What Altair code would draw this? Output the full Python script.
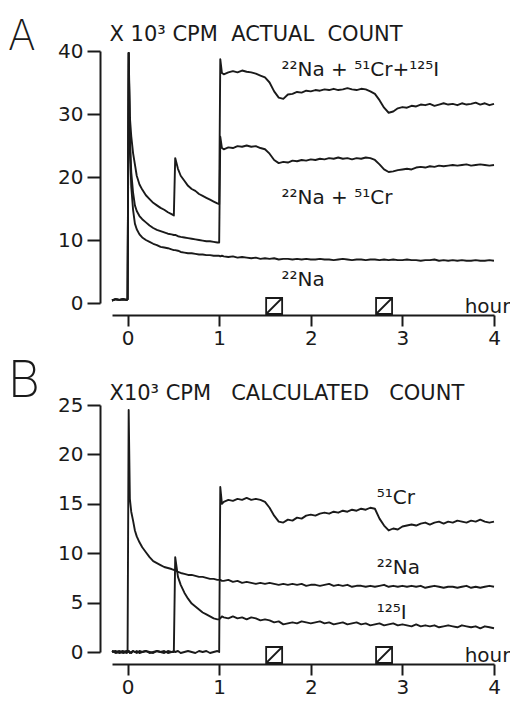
import altair as alt
import pandas as pd

# ---------------- data ----------------
hours = [-0.17, -0.13, -0.09, -0.05, -0.01,
         0.0, 0.012, 0.025,
         0.04, 0.06, 0.08, 0.10, 0.13, 0.16, 0.20, 0.24, 0.28, 0.32, 0.36, 0.40, 0.44, 0.48,
         0.505, 0.52,
         0.55, 0.58, 0.62, 0.66, 0.70, 0.74, 0.78, 0.82, 0.86, 0.90, 0.94, 0.98,
         1.0, 1.012, 1.03,
         1.05, 1.10, 1.15, 1.20, 1.25, 1.30, 1.35, 1.40, 1.45, 1.50,
         1.55, 1.60, 1.65, 1.70, 1.75, 1.80, 1.85, 1.90, 1.95, 2.00,
         2.05, 2.10, 2.15, 2.20, 2.25, 2.30, 2.35, 2.40, 2.45, 2.50,
         2.55, 2.60, 2.65, 2.70, 2.75, 2.80, 2.85, 2.90, 2.95, 3.00,
         3.05, 3.10, 3.15, 3.20, 3.25, 3.30, 3.35, 3.40, 3.45, 3.50,
         3.55, 3.60, 3.65, 3.70, 3.75, 3.80, 3.85, 3.90, 3.95, 4.00]

# Panel A: actual count (x 10^3 cpm)
a_na = [0.4, 0.6, 0.5, 0.6, 0.5,
        0.6, 39.7, 25.0,
        18.5, 14.8, 12.6, 11.7, 10.9, 10.4, 10.0, 9.7, 9.4, 9.2, 8.9, 8.8, 8.7, 8.5,
        8.4, 8.4,
        8.3, 8.1, 8.0, 7.9, 7.9, 7.8, 7.7, 7.7, 7.6, 7.6, 7.5, 7.5,
        7.5, 7.4, 7.5,
        7.4, 7.3, 7.4, 7.2, 7.3, 7.2, 7.1, 7.2, 7.0, 7.1,
        7.0, 7.1, 6.9, 7.0, 7.0, 6.9, 7.0, 6.9, 7.0, 6.9,
        6.9, 7.0, 6.9, 6.9, 6.8, 6.9, 7.0, 6.9, 6.8, 6.9,
        6.9, 6.8, 6.9, 6.9, 6.8, 6.9, 6.8, 6.9, 6.8, 6.8,
        6.9, 6.8, 6.8, 6.7, 6.8, 6.8, 6.9, 6.7, 6.8, 6.7,
        6.8, 6.7, 6.8, 6.7, 6.7, 6.8, 6.7, 6.7, 6.8, 6.7]

a_na_cr = [0.4, 0.6, 0.5, 0.6, 0.5,
           0.6, 39.7, 26.5,
           20.8, 17.5, 15.5, 14.6, 13.8, 13.3, 12.8, 12.3, 11.9, 11.6, 11.4, 11.2, 11.0, 10.9,
           10.8, 10.8,
           10.6, 10.5, 10.4, 10.3, 10.2, 10.1, 10.0, 9.9, 9.8, 9.8, 9.7, 9.6,
           9.6, 26.4, 24.6,
           24.4, 24.7, 24.6, 24.9, 24.8, 25.0, 24.8, 24.9, 24.6, 24.4,
           23.7, 22.7, 22.2, 22.4, 22.3, 22.6, 22.5, 22.7, 22.6, 22.8,
           22.7, 22.9, 22.8, 23.0, 22.9, 23.1, 22.9, 23.0, 22.8, 23.0,
           22.9, 23.1, 23.0, 22.7, 22.0, 21.2, 20.8, 20.9, 21.1, 21.2,
           21.3, 21.2, 21.5, 21.6, 21.5, 21.7, 21.6, 21.8, 21.7, 21.8,
           21.9, 21.8, 21.9, 22.0, 21.8, 21.9, 22.0, 21.9, 21.8, 21.9]

a_na_cr_i = [0.4, 0.6, 0.5, 0.6, 0.5,
             0.6, 39.7, 29.5,
             26.5, 23.8, 22.0, 20.2, 18.8, 18.0, 17.1, 16.5, 15.9, 15.5, 15.1, 14.8, 14.4, 14.1,
             13.9, 23.0,
             21.3, 20.2, 19.4, 18.6, 18.1, 17.8, 17.3, 17.0, 16.7, 16.4, 16.1, 15.8,
             15.7, 38.7, 36.5,
             36.3, 36.6, 36.8, 36.6, 36.9, 36.7, 36.6, 36.4, 36.1, 35.8,
             35.0, 33.6, 32.6, 32.4, 33.1, 33.2, 33.5, 33.4, 33.7, 33.6,
             33.8, 33.7, 33.9, 33.8, 34.0, 33.8, 33.9, 34.1, 33.9, 33.8,
             34.0, 33.9, 33.6, 33.2, 32.2, 31.0, 30.2, 30.4, 30.9, 31.1,
             31.0, 31.3, 31.2, 31.5, 31.4, 31.6, 31.3, 31.5, 31.7, 31.5,
             31.6, 31.4, 31.7, 31.5, 31.6, 31.8, 31.5, 31.7, 31.4, 31.6]

# Panel B: calculated count (x 10^3 cpm)
b_na = [0.1, 0.0, 0.1, -0.1, 0.0,
        0.0, 24.5, 15.5,
        14.2, 13.3, 12.3, 11.7, 11.1, 10.6, 10.1, 9.6, 9.2, 9.0, 8.8, 8.6, 8.5, 8.4,
        8.3, 8.3,
        8.1, 8.0, 7.9, 7.8, 7.8, 7.7, 7.6, 7.6, 7.5, 7.4, 7.4, 7.3,
        7.3, 7.3, 7.2,
        7.2, 7.3, 7.1, 7.2, 7.0, 7.1, 7.0, 6.9, 7.0, 6.9,
        7.0, 6.9, 6.8, 6.9, 6.8, 6.9, 6.8, 6.9, 6.7, 6.8,
        6.8, 6.7, 6.8, 6.9, 6.7, 6.8, 6.7, 6.8, 6.6, 6.7,
        6.7, 6.6, 6.7, 6.6, 6.7, 6.8, 6.6, 6.7, 6.6, 6.7,
        6.6, 6.7, 6.6, 6.7, 6.5, 6.6, 6.7, 6.6, 6.5, 6.6,
        6.6, 6.5, 6.6, 6.7, 6.5, 6.6, 6.5, 6.6, 6.7, 6.6]

b_cr = [0.0, 0.1, -0.1, 0.0, 0.1,
        0.0, 0.1, 0.0,
        -0.1, 0.1, 0.0, 0.1, -0.1, 0.0, 0.1, 0.0, -0.1, 0.1, 0.0, 0.1, -0.1, 0.0,
        0.1, 0.0,
        0.1, -0.1, 0.0, 0.1, 0.0, -0.1, 0.1, 0.0, 0.1, -0.1, 0.0, 0.1,
        0.0, 16.7, 15.0,
        15.2, 15.4, 15.3, 15.5, 15.4, 15.6, 15.4, 15.5, 15.4, 15.2,
        14.6, 13.8, 13.2, 13.1, 13.4, 13.3, 13.6, 13.5, 13.8, 13.9,
        13.8, 14.0, 14.1, 14.0, 14.2, 14.1, 14.3, 14.2, 14.4, 14.3,
        14.5, 14.4, 14.6, 14.5, 13.5, 12.8, 12.3, 12.5, 12.4, 12.7,
        12.8, 12.9, 12.8, 13.0, 13.1, 12.9, 13.1, 13.2, 13.0, 13.2,
        13.1, 13.3, 13.2, 13.1, 13.3, 13.2, 13.4, 13.2, 13.1, 13.2]

b_i = [0.1, -0.1, 0.0, 0.1, -0.1,
       0.0, 0.1, -0.1,
       0.0, 0.1, 0.0, -0.1, 0.1, 0.0, 0.1, -0.1, 0.0, 0.1, 0.0, -0.1, 0.1, 0.0,
       0.0, 9.6,
       7.6, 6.8, 6.0, 5.4, 4.9, 4.6, 4.3, 4.0, 3.8, 3.6, 3.4, 3.3,
       3.3, 3.4, 3.6,
       3.5, 3.4, 3.6, 3.4, 3.5, 3.3, 3.5, 3.4, 3.2, 3.3,
       3.2, 3.0, 3.1, 2.8, 2.9, 3.0, 2.9, 3.1, 3.0, 2.9,
       3.0, 3.1, 2.9, 3.0, 2.8, 2.9, 3.0, 2.8, 2.9, 3.0,
       2.8, 2.9, 2.7, 2.8, 2.9, 2.7, 2.8, 2.9, 2.7, 2.8,
       2.7, 2.6, 2.8, 2.6, 2.7, 2.6, 2.7, 2.5, 2.6, 2.7,
       2.6, 2.5, 2.7, 2.6, 2.5, 2.6, 2.4, 2.6, 2.5, 2.4]

stim_hours = [1.6, 2.8]

x_ticks = [0, 0.5, 1, 1.5, 2, 2.5, 3, 3.5, 4]
a_y_ticks = [0, 10, 20, 30, 40]
b_y_ticks = [0, 5, 10, 15, 20, 25]

a_label_text = ["²²Na + ⁵¹Cr+¹²⁵I", "²²Na + ⁵¹Cr", "²²Na"]
a_label_hour = [1.68, 1.68, 1.68]
a_label_count = [36.1, 15.7, 2.7]

b_label_text = ["⁵¹Cr", "²²Na", "¹²⁵I"]
b_label_hour = [2.72, 2.72, 2.72]
b_label_count = [15.0, 7.9, 3.3]

# ---------------- chart ----------------
FONT = "DejaVu Sans"
INK = "#1a1a1a"
W = 382
STIM_PATH = "M-1,-1H1V1H-1Z M-1,1L1,-1"
NB = "\u00a0"


def long_df(series):
    rows = []
    for name, vals in series.items():
        for h, v in zip(hours, vals):
            rows.append({"hour": h, "count": v, "series": name})
    return pd.DataFrame(rows)


def panel(series, ymax, yticks, height, units, units_y, letter, letter_size, letter_y,
          lab_text, lab_hour, lab_count):
    x_enc = alt.X(
        "hour:Q",
        scale=alt.Scale(domain=[-0.17, 4.0], nice=False, zero=False),
        axis=alt.Axis(
            values=x_ticks, format="d",
            labelExpr="datum.value % 1 ? '' : datum.label",
            tickSize={"condition": {"test": "datum.value % 1", "value": 6}, "value": 11},
            offset=12, grid=False, labelFlush=False,
            domainWidth=2, tickWidth=2, domainColor=INK, tickColor=INK,
            labelFont=FONT, labelFontSize=20, labelColor=INK, labelPadding=2,
            title="hour", titleFont=FONT, titleFontSize=20, titleFontWeight="normal",
            titleColor=INK, titleAlign="right", titleBaseline="alphabetic",
            titleX=W + 16, titleY=-3,
        ),
    )
    y_enc = alt.Y(
        "count:Q",
        scale=alt.Scale(domain=[0, ymax], nice=False, zero=False),
        axis=alt.Axis(
            values=yticks, offset=12, grid=False, tickSize=13,
            domainWidth=2, tickWidth=2, domainColor=INK, tickColor=INK,
            labelFont=FONT, labelFontSize=20, labelColor=INK, labelPadding=4,
            title=units, titleFont=FONT, titleFontSize=21, titleFontWeight="normal",
            titleColor=INK, titleAngle=0, titleAlign="left", titleBaseline="alphabetic",
            titleX=9, titleY=units_y,
        ),
    )
    lines = alt.Chart(long_df(series)).mark_line(
        color=INK, strokeWidth=1.9, strokeJoin="round"
    ).encode(x=x_enc, y=y_enc, detail="series:N")

    labels = alt.Chart(pd.DataFrame(
        {"hour": lab_hour, "count": lab_count, "label": lab_text}
    )).mark_text(font=FONT, fontSize=20, align="left", baseline="alphabetic",
                 color=INK).encode(x=x_enc, y=y_enc, text="label:N")

    stims = alt.Chart(pd.DataFrame({"hour": stim_hours})).mark_point(
        shape=STIM_PATH, size=256, filled=False, stroke=INK, strokeWidth=1.8, opacity=1
    ).encode(x=x_enc, y=alt.value(height + 3))

    letter_mark = alt.Chart(pd.DataFrame({"panel": [letter]})).mark_text(
        font="Inter", fontSize=letter_size, fontWeight=200, align="left",
        baseline="top", color=INK
    ).encode(x=alt.value(-104), y=alt.value(letter_y), text="panel:N")

    return alt.layer(lines, labels, stims, letter_mark).properties(width=W, height=height)


panel_a = panel(
    {"22Na": a_na, "22Na+51Cr": a_na_cr, "22Na+51Cr+125I": a_na_cr_i},
    40, a_y_ticks, 252, "X 10³ CPM" + NB * 2 + "ACTUAL" + NB * 2 + "COUNT", -11,
    "A", 42, -34, a_label_text, a_label_hour, a_label_count,
)
panel_b = panel(
    {"22Na": b_na, "51Cr": b_cr, "125I": b_i},
    25, b_y_ticks, 247, "X10³ CPM" + NB * 3 + "CALCULATED" + NB * 3 + "COUNT", -6,
    "B", 50, -48, b_label_text, b_label_hour, b_label_count,
)

chart = alt.vconcat(panel_a, panel_b, spacing=9).properties(
    padding={"left": 0, "top": 8, "right": 0, "bottom": 0},
    background="white",
).configure_view(stroke=None)

chart.save("out.html", embed_options={"renderer": "svg", "actions": False})
